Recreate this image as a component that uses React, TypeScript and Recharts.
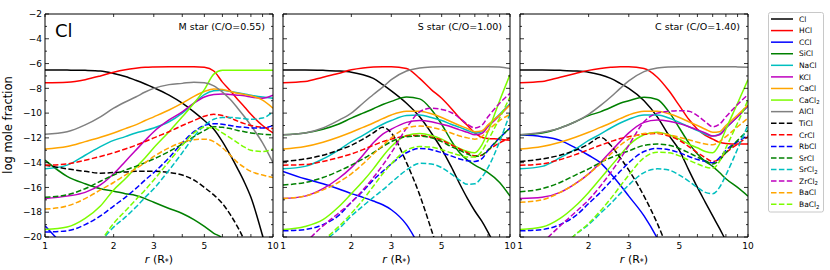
import { LineChart, Line, XAxis, YAxis } from 'recharts';

const FONT = '"DejaVu Sans", sans-serif';

// radius grid (stellar radii) shared by every series
const R = [1, 1.25, 1.5, 1.75, 2, 2.25, 2.5, 2.75, 3, 3.5, 4, 4.5, 5, 5.5, 6, 6.5, 7, 7.5, 8, 9, 10];

const SPECIES = ['Cl', 'HCl', 'CCl', 'SiCl', 'NaCl', 'KCl', 'CaCl', 'CaCl2', 'AlCl',
  'TiCl', 'CrCl', 'RbCl', 'SrCl', 'SrCl2', 'ZrCl2', 'BaCl', 'BaCl2'];

const X_TICKS = [1, 2, 3, 4, 5, 6, 7, 8, 9, 10];
const X_LABELS = [1, 2, 3, 5, 10];
const Y_TICKS = [-20, -19, -18, -17, -16, -15, -14, -13, -12, -11, -10, -9, -8, -7, -6, -5, -4, -3, -2];

// M star (C/O=0.55), log mole fraction
const M_CL = [-6.52, -6.53, -6.55, -6.6, -6.8, -7.05, -7.35, -7.65, -7.95, -8.55, -9.2, -9.9, -10.6, -11.3, -12.3, -13.4, -14.5, -15.6, -16.8, -19.9, -23];
const M_HCL = [-7.54, -7.5, -7.3, -7.0, -6.7, -6.5, -6.38, -6.3, -6.27, -6.25, -6.25, -6.25, -6.3, -6.6, -7.5, -8.2, -8.9, -9.5, -10.1, -11.0, -11.6];
const M_CCL = [-19.1, -21];
const M_SICL = [-13.8, -15.1, -15.7, -16.1, -16.3, -16.5, -16.65, -16.9, -17.2, -17.7, -18.1, -18.6, -19.15, -19.7, -20.1, -21];
const M_NACL = [-14.5, -14.2, -13.4, -12.7, -12.2, -11.9, -11.6, -11.4, -11.2, -10.7, -10.0, -9.2, -8.5, -8.2, -8.15, -8.25, -8.35, -8.45, -8.55, -8.7, -8.8];
const M_KCL = [-16.9, -16.7, -16.4, -15.8, -14.9, -13.9, -13.0, -12.2, -11.5, -10.55, -9.9, -9.2, -8.7, -8.5, -8.45, -8.5, -8.55, -8.6, -8.7, -8.8, -8.55];
const M_CACL = [-12.9, -12.7, -12.3, -11.95, -11.6, -11.25, -10.95, -10.6, -10.3, -9.75, -9.2, -8.65, -8.25, -8.05, -8.1, -8.25, -8.4, -8.5, -8.6, -8.95, -9.6];
const M_CACL2 = [-19.4, -19.2, -18.5, -17.5, -16.2, -15.3, -14.4, -13.6, -12.8, -11.5, -10.3, -9.2, -8.1, -6.85, -6.55, -6.55, -6.55, -6.55, -6.55, -6.55, -6.55];
const M_ALCL = [-11.7, -11.5, -10.95, -10.3, -9.6, -9.1, -8.7, -8.3, -8.0, -7.7, -7.6, -7.5, -7.55, -7.8, -8.3, -8.9, -9.6, -10.3, -11.0, -12.4, -14.0];
const M_TICL = [-14.2, -14.5, -14.7, -14.85, -14.8, -14.75, -14.7, -14.7, -14.7, -14.8, -15.0, -15.4, -16.0, -16.6, -17.3, -18.2, -19.2, -20.3, -21.5];
const M_CRCL = [-14.2, -14.1, -13.8, -13.5, -13.2, -12.9, -12.6, -12.3, -12.0, -11.5, -11.0, -10.6, -10.25, -10.1, -10.2, -10.4, -10.65, -10.85, -11.0, -11.15, -11.25];
const M_RBCL = [-19.6, -19.5, -19.0, -18.3, -17.5, -16.8, -16.1, -15.4, -14.8, -13.6, -12.4, -11.5, -11.0, -10.85, -10.9, -11.0, -11.1, -11.15, -11.2, -11.2, -11.0];
const M_SRCL = [-16.8, -16.6, -16.1, -15.5, -15.0, -14.6, -14.3, -14.0, -13.7, -13.1, -12.5, -11.9, -11.4, -11.1, -11.15, -11.25, -11.4, -11.5, -11.6, -11.7, -11.75];
const M_SRCL2 = [null, null, null, -20.4, -19.2, -18.4, -17.6, -16.8, -16.1, -14.6, -13.2, -11.9, -11.0, -10.5, -10.35, -10.35, -10.4, -10.45, -10.5, -10.4, -9.9];
const M_ZRCL2: (number | null)[] = []; // below -20 everywhere
const M_BACL = [-17.75, -17.5, -16.9, -16.2, -15.6, -15.0, -14.5, -14.0, -13.5, -12.8, -12.35, -12.15, -12.1, -12.3, -12.8, -13.4, -14.0, -14.4, -14.7, -15.0, -15.2];
const M_BACL2 = [null, null, null, -20.4, -18.9, -17.9, -17.0, -16.2, -15.4, -13.9, -12.6, -11.6, -11.15, -11.2, -11.6, -12.0, -12.4, -12.75, -13.0, -13.1, -12.9];

// S star (C/O=1.00)
const S_CL = [-6.52, -6.52, -6.55, -6.6, -6.7, -6.9, -7.2, -7.7, -8.2, -9.2, -10.3, -11.6, -12.9, -14.3, -15.7, -16.9, -17.9, -18.7, -19.6, -21.5];
const S_HCL = [-7.54, -7.45, -7.1, -6.8, -6.5, -6.35, -6.28, -6.25, -6.25, -6.4, -7.2, -8.1, -8.8, -9.6, -10.4, -11.0, -11.6, -11.95, -12.05, -12.1, -12.2];
const S_CCL = [-14.7, -15.3, -15.7, -16.1, -16.5, -16.8, -17.1, -17.4, -17.8, -19.0, -20.8];
const S_SICL = [-11.75, -11.6, -11.3, -10.9, -10.4, -10.0, -9.65, -9.3, -9.05, -8.7, -8.85, -9.7, -10.9, -12.2, -13.2, -13.8, -14.2, -14.5, -14.8, -15.6, -16.7];
const S_NACL = [-14.5, -14.3, -13.7, -13.0, -12.3, -11.8, -11.3, -10.9, -10.6, -10.2, -10.15, -10.35, -10.6, -10.9, -11.15, -11.4, -11.6, -11.5, -11.0, -10.1, -9.25];
const S_KCL = [-16.9, -16.7, -16.1, -15.3, -14.4, -13.4, -12.4, -11.7, -11.3, -10.75, -10.6, -10.7, -10.9, -11.1, -11.35, -11.55, -11.75, -11.65, -11.1, -10.2, -9.3];
const S_CACL = [-12.9, -12.7, -12.35, -11.95, -11.55, -11.15, -10.8, -10.45, -10.15, -9.85, -9.85, -10.05, -10.35, -10.7, -11.0, -11.25, -11.5, -11.45, -10.95, -10.15, -9.35];
const S_CACL2 = [-19.4, -19.15, -18.6, -17.6, -16.5, -15.5, -14.5, -13.5, -12.7, -11.8, -11.65, -11.8, -12.1, -12.5, -12.85, -13.1, -13.2, -12.6, -11.5, -9.0, -6.9];
const S_ALCL = [-11.75, -11.6, -11.2, -10.6, -10.0, -9.2, -8.5, -7.9, -7.3, -6.6, -6.35, -6.27, -6.25, -6.25, -6.25, -6.25, -6.25, -6.25, -6.25, -6.28, -6.4];
const S_TICL = [-13.9, -13.7, -13.4, -13.0, -12.6, -12.1, -11.6, -11.15, -11.6, -14.0, -16.6, -19.4, -22];
const S_CRCL = [-14.2, -14.15, -13.9, -13.6, -13.3, -12.95, -12.6, -12.3, -12.1, -11.85, -11.8, -11.95, -12.2, -12.55, -12.9, -13.2, -13.45, -13.4, -13.0, -12.4, -12.0];
const S_RBCL = [-19.5, -19.4, -19.0, -18.3, -17.2, -16.3, -15.4, -14.7, -14.1, -13.2, -12.85, -12.95, -13.2, -13.45, -13.7, -13.85, -13.9, -13.7, -13.0, -12.0, -11.2];
const S_SRCL = [-15.8, -15.6, -15.2, -14.7, -14.2, -13.7, -13.2, -12.7, -12.3, -11.9, -11.85, -12.0, -12.3, -12.7, -13.0, -13.3, -13.5, -13.4, -13.0, -12.0, -11.2];
const S_SRCL2 = [null, null, -20.4, -19.4, -18.3, -17.5, -16.8, -16.2, -15.6, -14.6, -14.05, -14.1, -14.4, -14.9, -15.4, -15.75, -15.7, -15.2, -14.4, -12.3, -10.0];
const S_ZRCL2 = [null, -20.5, -19.1, -18.1, -17.2, -16.2, -15.2, -14.2, -13.2, -11.2, -9.9, -9.6, -9.7, -9.95, -10.4, -10.9, -11.2, -11.0, -10.3, -9.2, -8.4];
const S_BACL = [-16.9, -16.7, -16.2, -15.6, -14.9, -14.1, -13.3, -12.6, -12.0, -11.2, -11.05, -11.15, -11.35, -11.6, -11.85, -12.0, -12.1, -11.9, -11.4, -10.6, -10.1];
const S_BACL2 = [null, null, -20.3, -19.2, -18.1, -17.0, -15.9, -14.9, -14.1, -13.0, -12.7, -12.75, -12.95, -13.2, -13.4, -13.55, -13.55, -13.1, -12.2, -10.4, -8.7];

// C star (C/O=1.40)
const C_CL = [-6.52, -6.52, -6.55, -6.6, -6.7, -6.9, -7.2, -7.6, -8.0, -9.0, -10.3, -11.8, -13.0, -14.6, -16.0, -17.2, -18.3, -19.3, -20.3, -22];
const C_HCL = [-7.54, -7.45, -7.1, -6.8, -6.55, -6.4, -6.3, -6.25, -6.25, -6.4, -7.1, -8.2, -9.4, -10.5, -11.3, -11.8, -12.1, -12.35, -12.45, -12.5, -12.5];
const C_CCL = [-11.75, -11.9, -12.2, -12.8, -13.4, -14.0, -14.9, -15.8, -16.7, -18.3, -20.1, -22];
const C_SICL = [-11.75, -11.6, -11.2, -10.7, -10.2, -9.9, -9.55, -9.2, -9.0, -8.72, -8.9, -9.9, -11.2, -12.4, -13.3, -13.9, -14.3, -14.8, -15.3, -16.0, -16.7];
const C_NACL = [-14.5, -14.3, -13.6, -12.9, -12.2, -11.7, -11.2, -10.8, -10.5, -10.15, -10.15, -10.4, -10.75, -11.1, -11.4, -11.7, -11.85, -11.7, -11.2, -10.3, -9.45];
const C_KCL = [-16.9, -16.8, -16.4, -15.7, -14.9, -14.0, -13.1, -12.3, -11.6, -10.75, -10.55, -10.65, -10.85, -11.1, -11.35, -11.6, -11.85, -11.75, -11.2, -10.3, -9.4];
const C_CACL = [-12.9, -12.7, -12.35, -11.95, -11.55, -11.15, -10.8, -10.45, -10.15, -9.85, -9.85, -10.05, -10.35, -10.7, -11.0, -11.3, -11.55, -11.5, -11.0, -10.15, -9.35];
const C_CACL2 = [-19.4, -19.2, -18.5, -17.5, -16.4, -15.3, -14.3, -13.4, -12.6, -11.75, -11.55, -11.75, -12.1, -12.5, -12.8, -13.1, -13.2, -12.5, -11.3, -9.2, -7.3];
const C_ALCL = [-11.75, -11.55, -11.2, -10.7, -10.1, -9.4, -8.7, -8.0, -7.4, -6.65, -6.35, -6.27, -6.25, -6.25, -6.25, -6.25, -6.25, -6.25, -6.25, -6.27, -6.3];
const C_TICL = [-13.9, -13.7, -13.4, -13.0, -12.5, -11.95, -12.6, -13.6, -14.6, -16.7, -18.9, -21.2];
const C_CRCL = [-14.2, -14.1, -13.75, -13.35, -12.95, -12.6, -12.3, -12.05, -11.9, -11.7, -11.65, -11.85, -12.2, -12.7, -13.2, -13.6, -13.9, -13.7, -13.2, -12.5, -11.9];
const C_RBCL = [-19.5, -19.4, -19.0, -18.3, -17.3, -16.4, -15.5, -14.7, -14.0, -13.1, -12.85, -12.95, -13.2, -13.5, -13.75, -13.9, -14.0, -13.6, -13.0, -12.3, -11.8];
const C_SRCL = [-16.35, -16.1, -15.6, -15.0, -14.5, -14.0, -13.6, -13.3, -13.05, -12.6, -12.5, -12.6, -12.85, -13.2, -13.55, -13.85, -14.1, -13.8, -13.2, -12.2, -11.4];
const C_SRCL2 = [null, null, -21.0, -19.8, -19.0, -18.1, -17.3, -16.5, -15.8, -14.8, -14.5, -14.6, -15.0, -15.5, -16.0, -16.4, -16.5, -16.0, -15.0, -12.9, -10.95];
const C_ZRCL2 = [null, -20.5, -19.1, -18.0, -17.0, -15.9, -14.8, -13.7, -12.6, -10.7, -10.0, -9.85, -9.8, -9.85, -10.2, -10.7, -11.1, -10.9, -10.3, -9.3, -8.5];
const C_BACL = [-17.2, -17.0, -16.4, -15.7, -14.9, -14.1, -13.3, -12.6, -12.1, -11.65, -11.6, -11.75, -11.95, -12.15, -12.35, -12.5, -12.55, -12.3, -11.9, -11.1, -10.4];
const C_BACL2 = [null, null, -21.0, -19.8, -18.9, -17.9, -16.9, -15.9, -15.0, -13.6, -13.15, -13.2, -13.45, -13.8, -14.1, -14.35, -14.45, -13.9, -12.8, -10.8, -8.95];

const M_SERIES = [M_CL, M_HCL, M_CCL, M_SICL, M_NACL, M_KCL, M_CACL, M_CACL2, M_ALCL, M_TICL, M_CRCL, M_RBCL, M_SRCL, M_SRCL2, M_ZRCL2, M_BACL, M_BACL2];
const S_SERIES = [S_CL, S_HCL, S_CCL, S_SICL, S_NACL, S_KCL, S_CACL, S_CACL2, S_ALCL, S_TICL, S_CRCL, S_RBCL, S_SRCL, S_SRCL2, S_ZRCL2, S_BACL, S_BACL2];
const C_SERIES = [C_CL, C_HCL, C_CCL, C_SICL, C_NACL, C_KCL, C_CACL, C_CACL2, C_ALCL, C_TICL, C_CRCL, C_RBCL, C_SRCL, C_SRCL2, C_ZRCL2, C_BACL, C_BACL2];

const COLORS = ['#000000', '#ff0000', '#0000ff', '#008000', '#00bfbf', '#bf00bf', '#ffa500', '#7cfc00', '#808080',
  '#000000', '#ff0000', '#0000ff', '#008000', '#00bfbf', '#bf00bf', '#ffa500', '#7cfc00'];
const DASH = '5.5 2.4';
const isDashed = (i: number) => i >= 9;

const TOP = 14;
const BOTTOM = 237;

const PANELS = [
  { title: 'M star (C/O=0.55)', series: M_SERIES, left: 45, width: 228, labels: true },
  { title: 'S star (C/O=1.00)', series: S_SERIES, left: 283, width: 227, labels: false },
  { title: 'C star (C/O=1.40)', series: C_SERIES, left: 520, width: 228, labels: false },
];

const minus = (v: number) => (v < 0 ? '\u2212' + Math.abs(v) : String(v));

const BottomTick = (props: any) => {
  const { x, y, payload } = props;
  const v = payload.value;
  return (
    <g>
      <line x1={x} x2={x} y1={y} y2={y - 3} stroke="#000" strokeWidth={0.8} />
      {X_LABELS.includes(v) && (
        <text x={x} y={y + 11.5} textAnchor="middle" fontSize={9} fontFamily={FONT} fill="#000">{v}</text>
      )}
    </g>
  );
};

const TopTick = (props: any) => {
  const { x, y } = props;
  return <line x1={x} x2={x} y1={y} y2={y + 3} stroke="#000" strokeWidth={0.8} />;
};

const makeSideTick = (dir: number, labels: boolean) => (props: any) => {
  const { x, y, payload } = props;
  const v = payload.value;
  const major = v % 2 === 0;
  return (
    <g>
      <line x1={x} x2={x + dir * (major ? 4 : 2)} y1={y} y2={y} stroke="#000" strokeWidth={0.8} />
      {labels && major && (
        <text x={x - 3} y={y + 3.2} textAnchor="end" fontSize={9} fontFamily={FONT} fill="#000">{minus(v)}</text>
      )}
    </g>
  );
};

const AXIS = { stroke: '#000', strokeWidth: 1 };

function Panel({ series, left, width, labels }: any) {
  const rows = R.map((r, i) => {
    const row: Record<string, number | null> = { r };
    SPECIES.forEach((s, j) => {
      const v = series[j][i];
      row[s] = v === undefined ? null : v;
    });
    return row;
  });

  return (
    <div style={{ position: 'absolute', left: left - 45, top: 0 }}>
      <LineChart width={width + 55} height={270} data={rows}
        margin={{ top: TOP, right: 10, bottom: 270 - BOTTOM, left: 45 }}>
        <XAxis dataKey="r" type="number" scale="log" domain={[1, 10]} allowDataOverflow
          ticks={X_TICKS} interval={0} mirror tickSize={0} tickMargin={0} height={1}
          axisLine={AXIS} tickLine={false} tick={BottomTick} />
        <XAxis xAxisId="top" orientation="top" dataKey="r" type="number" scale="log" domain={[1, 10]}
          allowDataOverflow ticks={X_TICKS} interval={0} mirror tickSize={0} tickMargin={0} height={1}
          axisLine={AXIS} tickLine={false} tick={TopTick} />
        <YAxis type="number" domain={[-20, -2]} allowDataOverflow ticks={Y_TICKS} interval={0}
          mirror tickSize={0} tickMargin={0} width={1} axisLine={AXIS} tickLine={false}
          tick={makeSideTick(1, labels)} />
        <YAxis yAxisId="right" orientation="right" type="number" domain={[-20, -2]} allowDataOverflow
          ticks={Y_TICKS} interval={0} mirror tickSize={0} tickMargin={0} width={1} axisLine={AXIS}
          tickLine={false} tick={makeSideTick(-1, false)} />
        {SPECIES.map((s, j) => (
          <Line key={s} dataKey={s} type="monotone" stroke={COLORS[j]} strokeWidth={1.5}
            strokeDasharray={isDashed(j) ? DASH : undefined} dot={false} activeDot={false}
            isAnimationActive={false} connectNulls={false} />
        ))}
      </LineChart>
    </div>
  );
}

const Sub2 = ({ name, size }: { name: string; size: number }) => {
  const sub = name.endsWith('2');
  return (
    <>
      {sub ? name.slice(0, -1) : name}
      {sub && <tspan fontSize={size * 0.72} dy={size * 0.22}>2</tspan>}
    </>
  );
};

export default function App() {
  return (
    <div style={{ position: 'absolute', left: 0, top: 0, width: 830, height: 270, background: '#fff', overflow: 'hidden' }}>
      {PANELS.map((p) => (
        <Panel key={p.title} series={p.series} left={p.left} width={p.width} labels={p.labels} />
      ))}
      <svg width={830} height={270} style={{ position: 'absolute', left: 0, top: 0, pointerEvents: 'none' }}
        fontFamily={FONT}>
        <text x={55} y={37} fontSize={18} fill="#000">Cl</text>
        {PANELS.map((p) => (
          <g key={p.title}>
            <text x={p.left + p.width - 8} y={29.5} fontSize={9.5} textAnchor="end" fill="#000">{p.title}</text>
            <text x={p.left + p.width / 2} y={263} fontSize={11} textAnchor="middle" fill="#000">
              <tspan fontStyle="italic">r</tspan> (R<tspan fontSize={8} dy={2}>*</tspan><tspan dy={-2}>)</tspan>
            </text>
          </g>
        ))}
        <text transform="translate(12,125) rotate(-90)" fontSize={11.5} textAnchor="middle" fill="#000">
          log mole fraction
        </text>
        <rect x={768.5} y={12.5} width={55} height={199.5} rx={2} fill="#fff" stroke="#c8c8c8" strokeWidth={1} />
        {SPECIES.map((s, i) => {
          const y = 19 + i * 11.58;
          return (
            <g key={s}>
              <line x1={771} x2={793} y1={y} y2={y} stroke={COLORS[i]} strokeWidth={1.5}
                strokeDasharray={isDashed(i) ? DASH : undefined} />
              <text x={799} y={y + 2.7} fontSize={7.5} fill="#000"><Sub2 name={s} size={7.5} /></text>
            </g>
          );
        })}
      </svg>
    </div>
  );
}
